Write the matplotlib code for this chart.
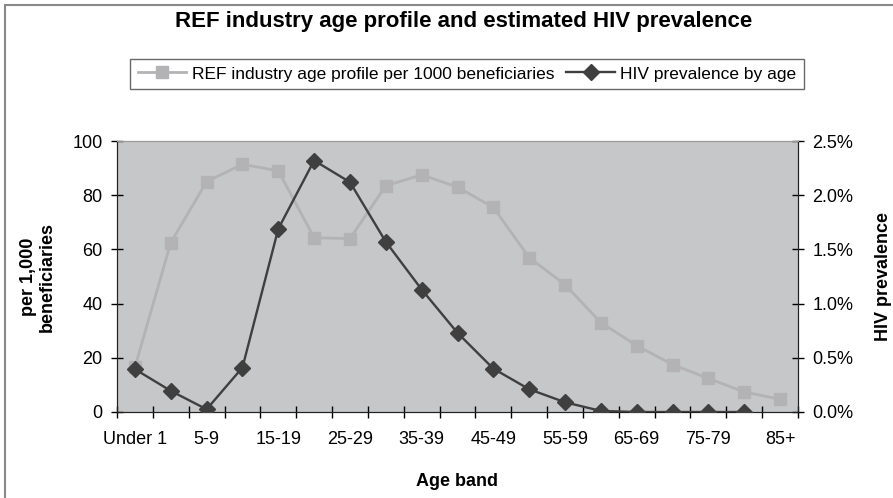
import numpy as np
import matplotlib
matplotlib.use("Agg")
import matplotlib.pyplot as plt
from matplotlib.ticker import FuncFormatter, FixedLocator
from matplotlib.patches import Rectangle

plt.rcParams['font.family'] = ['Liberation Sans', 'DejaVu Sans']

categories = ["Under 1", "1-4", "5-9", "10-14", "15-19", "20-24", "25-29", "30-34",
              "35-39", "40-44", "45-49", "50-54", "55-59", "60-64", "65-69", "70-74",
              "75-79", "80-84", "85+"]
age_profile = [16.5, 62.5, 85, 91.4, 89, 64.3, 64, 83.5, 87.5, 83, 75.5, 57, 47,
               33, 24.5, 17.5, 12.4, 7.4, 4.7]
hiv_prev = [0.00395, 0.00195, 0.00025, 0.0041, 0.0169, 0.0232, 0.0212, 0.0157,
            0.0113, 0.0073, 0.0040, 0.0021, 0.0009, 0.0001, 0.0, 0.0, 0.0, 0.0, np.nan]

W, H = 893, 498
fig = plt.figure(figsize=(W / 100, H / 100), dpi=100)
fig.patch.set_facecolor('white')

L, R, T, B = 117, 798, 141, 412
ax = fig.add_axes([L / W, 1 - B / H, (R - L) / W, (B - T) / H])
ax.set_facecolor('#c6c7c9')
ax2 = ax.twinx()

x = np.arange(len(categories))
l1, = ax.plot(x, age_profile, color='#b3b3b5', lw=2, marker='s', ms=9,
              mfc='#b3b3b5', mec='#b3b3b5', label='REF industry age profile per 1000 beneficiaries',
              zorder=3)
l2, = ax2.plot(x, hiv_prev, color='#3f3f3f', lw=1.7, marker='D', ms=8.5,
               mfc='#3f3f3f', mec='#3f3f3f', label='HIV prevalence by age', zorder=4)

ax.set_xlim(-0.5, len(categories) - 0.5)
ax.set_ylim(0, 100)
ax2.set_ylim(0, 0.025)
ax.set_yticks(np.arange(0, 101, 20))
ax2.set_yticks(np.arange(0, 0.0251, 0.005))
ax2.yaxis.set_major_formatter(FuncFormatter(lambda v, p: f"{v*100:.1f}%"))

ax.set_xticks(x[::2])
ax.set_xticklabels(categories[::2])
ax.xaxis.set_minor_locator(FixedLocator(np.arange(-0.5, len(categories), 1.0)))
ax.tick_params(axis='x', which='major', length=0, pad=14, labelsize=13)
ax.tick_params(axis='x', which='minor', length=9, direction='inout', width=1)
ax.tick_params(axis='y', length=9, direction='inout', width=1, labelsize=13, pad=6)
ax2.tick_params(axis='y', length=9, direction='inout', width=1, labelsize=13, pad=6)

for a in (ax, ax2):
    a.spines['top'].set_color('#999999')
    a.spines['left'].set_color('#222222')
    a.spines['right'].set_color('#222222')
    a.spines['bottom'].set_color('#222222')
ax2.patch.set_visible(False)

ax.set_xlabel('Age band', fontsize=13, fontweight='bold', labelpad=18)
ax.set_ylabel('per 1,000\nbeneficiaries', fontsize=13, fontweight='bold', labelpad=12,
              linespacing=1.15)
ax2.set_ylabel('HIV prevalence', fontsize=13, fontweight='bold', labelpad=15)

fig.text(464 / W, 1 - 21 / H, 'REF industry age profile and estimated HIV prevalence',
         ha='center', va='center', fontsize=16, fontweight='bold')

leg = fig.legend(handles=[l1, l2], loc='center', bbox_to_anchor=(467 / W, 1 - 74 / H),
                 ncol=2, frameon=True, fancybox=False, fontsize=12.5, handlelength=2.8,
                 columnspacing=0.7, handletextpad=0.3, borderpad=0.45)
leg.get_frame().set_edgecolor('#444444')
leg.get_frame().set_linewidth(1)

fig.patches.append(Rectangle((5 / W, -0.1), 1.1, (1 - 5 / H) + 0.1,
                             transform=fig.transFigure, fill=False,
                             edgecolor='#888888', lw=1.5))

fig.savefig('out.png', dpi=100)
